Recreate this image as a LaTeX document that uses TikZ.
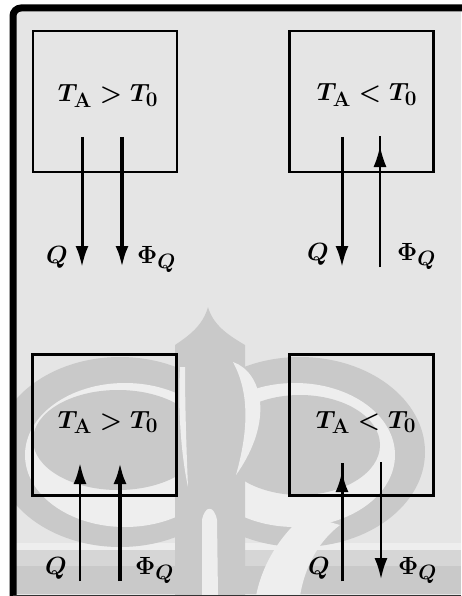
\documentclass[tikz,border=0pt]{standalone}
\usetikzlibrary{arrows.meta}
\definecolor{bgA}{HTML}{E5E5E5}
\definecolor{wm}{HTML}{C9C9C9}
\definecolor{wmm}{HTML}{D6D6D6}
\definecolor{wml}{HTML}{EEEEEE}
\begin{document}
\begin{tikzpicture}[x=1pt,y=-1pt,
  box/.style={draw=black, line width=2.2pt, minimum width=144pt, minimum height=141pt, inner sep=0pt},
  eq/.style={font=\fontsize{28}{32}\selectfont\boldmath, inner sep=0pt, anchor=base},
  lab/.style={font=\fontsize{28}{32}\selectfont\boldmath, inner sep=0pt, anchor=base},
  labw/.style={lab, anchor=base west},
  flow/.style={draw=black, -{Latex[length=21pt,width=13pt]}},
  plain/.style={draw=black}
]
\useasboundingbox (0,0) rectangle (461,596);
\fill[white] (0,0) rectangle (461,596);
\fill[bgA] (13,596) [rounded corners=8pt]-- (13,8) [sharp corners]-- (461,8) -- (461,596) -- cycle;
% watermark
\begin{scope}
\clip (13,8) rectangle (461,594);
\fill[wml] (13,543) rectangle (461,562);
\fill[wmm] (13,550) rectangle (461,566);
\fill[wm] (13,566) rectangle (461,594);
\fill[wm] (120,452) ellipse [x radius=125, y radius=95];
\fill[wm] (300,452) ellipse [x radius=125, y radius=95];
\fill[wml] (125,455) ellipse [x radius=100, y radius=72];
\fill[wml] (295,455) ellipse [x radius=100, y radius=72];
\fill[wm] (118,440) ellipse [x radius=85, y radius=50];
\fill[wm] (300,445) ellipse [x radius=80, y radius=50];
\fill[wm] (208,307) .. controls (203,325) and (190,335) .. (175,345) -- (175,600) -- (245,600) -- (245,345) .. controls (228,335) and (213,325) .. (208,307) -- cycle;
\fill[wml] (180,367) .. controls (178,400) and (180,450) .. (188,487) .. controls (186,440) and (185,400) .. (185,367) -- cycle;
\fill[wml] (233,362) .. controls (262,372) and (275,420) .. (236,475) .. controls (250,425) and (248,390) .. (233,362) -- cycle;
\fill[wml] (202,520) .. controls (205,505) and (214,505) .. (217,520) -- (218,596) -- (202,596) -- cycle;
\fill[wml] (305,515) .. controls (280,535) and (262,565) .. (256,596) -- (300,596) .. controls (305,565) and (320,540) .. (340,525) -- cycle;
\end{scope}
% frame
\draw[line width=7pt, rounded corners=8pt] (13,600) -- (13,8) -- (470,8);
\draw[line width=1pt, black!80] (13,595) -- (461,595);
% boxes
\node[box] (b1) at (105,101.5) {};
\node[box] (b2) at (361.5,101.5) {};
\node[box] (b3) at (104.5,425) {};
\node[box] (b4) at (361.5,425) {};
\node[eq] (e1) at (108,102) {$T_{\mathrm{A}} > T_0$};
\node[eq] (e2) at (367,101) {$T_{\mathrm{A}} < T_0$};
\node[eq] (e3) at (108,428) {$T_{\mathrm{A}} > T_0$};
\node[eq] (e4) at (366,428) {$T_{\mathrm{A}} < T_0$};
% arrow end points
\coordinate (a1s) at (82,137);  \coordinate (a1e) at (82,267);
\coordinate (a2s) at (122,137); \coordinate (a2e) at (122,267);
\coordinate (a3s) at (342,137); \coordinate (a3e) at (342,267);
\coordinate (a4s) at (380,267); \coordinate (a4e) at (380,146); \coordinate (a4x) at (380,136);
\coordinate (a5s) at (80,581);  \coordinate (a5e) at (80,463);
\coordinate (a6s) at (120,581); \coordinate (a6e) at (120,463);
\coordinate (a7s) at (342,581); \coordinate (a7e) at (342,471); \coordinate (a7x) at (342,463);
\coordinate (a8s) at (381,462); \coordinate (a8e) at (381,579);
\draw[flow, line width=3pt] (a1s) -- (a1e);
\draw[flow, line width=3.5pt] (a2s) -- (a2e);
\draw[flow, line width=3pt] (a3s) -- (a3e);
\draw[plain, line width=2pt] (a4s) -- (a4x);
\draw[flow, line width=2pt] (a4s) -- (a4e);
\draw[flow, line width=2.8pt] (a5s) -- (a5e);
\draw[flow, line width=3.5pt] (a6s) -- (a6e);
\draw[plain, line width=3pt] (a7s) -- (a7x);
\draw[flow, line width=3pt] (a7s) -- (a7e);
\draw[flow, line width=2.2pt] (a8s) -- (a8e);
% labels
\node[lab] (q1) at (57,263) {$Q$};
\node[labw] (f1) at (137,263) {$\Phi_Q$};
\node[lab] (q2) at (318,260) {$Q$};
\node[labw] (f2) at (397,260) {$\Phi_Q$};
\node[lab] (q3) at (56,574) {$Q$};
\node[labw] (f3) at (135,574) {$\Phi_Q$};
\node[lab] (q4) at (319,574) {$Q$};
\node[labw] (f4) at (398,574) {$\Phi_Q$};
\end{tikzpicture}
\end{document}
